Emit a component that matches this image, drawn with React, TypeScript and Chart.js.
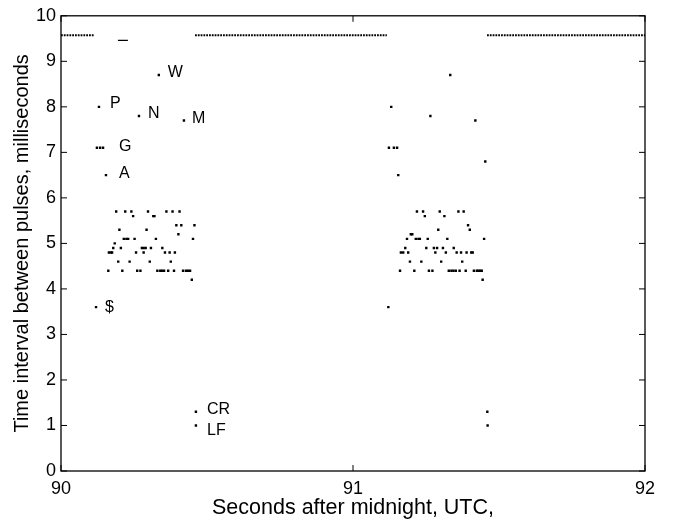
import { useEffect, useRef } from 'react';
import { Chart, registerables } from 'chart.js';

Chart.register(...registerables);

// Axis ticks
const xTickValues = [90, 91, 92];
const yTickValues = [0, 1, 2, 3, 4, 5, 6, 7, 8, 9, 10];

// First burst of pulses (seconds after midnight, interval in ms)
const burst1Times = [
  90.335, 90.130, 90.267, 90.421, 90.123, 90.134, 90.144, 90.154,
  90.189, 90.220, 90.241, 90.298, 90.361, 90.382, 90.406,
  90.247, 90.316, 90.320,
  90.395, 90.412, 90.457,
  90.200, 90.293,
  90.402,
  90.215, 90.224, 90.230, 90.252, 90.325, 90.452,
  90.184,
  90.179, 90.205, 90.277, 90.283, 90.290, 90.308, 90.347,
  90.164, 90.171, 90.175, 90.257, 90.283, 90.356, 90.372, 90.390,
  90.196, 90.235, 90.304, 90.376,
  90.162, 90.210, 90.261, 90.272, 90.330, 90.340, 90.346, 90.353, 90.367, 90.387, 90.418, 90.428, 90.435, 90.442,
  90.448, 90.120, 90.462, 90.462,
];
const burst1Intervals = [
  8.7, 8.0, 7.8, 7.7, 7.1, 7.1, 7.1, 6.5,
  5.7, 5.7, 5.7, 5.7, 5.7, 5.7, 5.7,
  5.6, 5.6, 5.6,
  5.4, 5.4, 5.4,
  5.3, 5.3,
  5.2,
  5.1, 5.1, 5.1, 5.1, 5.1, 5.1,
  5.0,
  4.9, 4.9, 4.9, 4.9, 4.9, 4.9, 4.9,
  4.8, 4.8, 4.8, 4.8, 4.8, 4.8, 4.8, 4.8,
  4.6, 4.6, 4.6, 4.6,
  4.4, 4.4, 4.4, 4.4, 4.4, 4.4, 4.4, 4.4, 4.4, 4.4, 4.4, 4.4, 4.4, 4.4,
  4.2, 3.6, 1.3, 1.0,
];

// Second burst of pulses
const burst2Times = [
  91.333, 91.131, 91.265, 91.419, 91.123, 91.140, 91.151, 91.453, 91.155,
  91.219, 91.240, 91.297, 91.361, 91.379,
  91.246, 91.313,
  91.394,
  91.292, 91.400,
  91.198, 91.203,
  91.185, 91.215, 91.224, 91.229, 91.256, 91.323, 91.449,
  91.179, 91.251, 91.277, 91.288, 91.308, 91.345,
  91.164, 91.172, 91.189, 91.282, 91.318, 91.355, 91.370, 91.389, 91.405, 91.410,
  91.195, 91.234, 91.302, 91.374,
  91.161, 91.210, 91.260, 91.272, 91.328, 91.337, 91.344, 91.352, 91.365, 91.386, 91.414, 91.424, 91.429, 91.435, 91.441,
  91.444, 91.121, 91.460, 91.461,
];
const burst2Intervals = [
  8.7, 8.0, 7.8, 7.7, 7.1, 7.1, 7.1, 6.8, 6.5,
  5.7, 5.7, 5.7, 5.7, 5.7,
  5.6, 5.6,
  5.4,
  5.3, 5.3,
  5.2, 5.2,
  5.1, 5.1, 5.1, 5.1, 5.1, 5.1, 5.1,
  4.9, 4.9, 4.9, 4.9, 4.9, 4.9,
  4.8, 4.8, 4.8, 4.8, 4.8, 4.8, 4.8, 4.8, 4.8, 4.8,
  4.6, 4.6, 4.6, 4.6,
  4.4, 4.4, 4.4, 4.4, 4.4, 4.4, 4.4, 4.4, 4.4, 4.4, 4.4, 4.4, 4.4, 4.4, 4.4,
  4.2, 3.6, 1.3, 1.0,
];

// Regular pulse train segments near the top
const trainStarts = [90.0, 90.459, 91.459];
const trainEnds = [90.113, 91.116, 92.0];
const trainLevel = 9.57;

// Short mark near the top
const markStart = 90.195;
const markEnd = 90.229;
const markLevel = 9.46;

// Text annotations
const labelTexts = ['W', 'P', 'N', 'M', 'G', 'A', '$', 'CR', 'LF'];
const labelTimes = [90.366, 90.168, 90.298, 90.449, 90.199, 90.199, 90.151, 90.5, 90.5];
const labelValues = [8.75, 8.07, 7.85, 7.74, 7.13, 6.54, 3.6, 1.34, 0.88];

const FONT = '"Liberation Sans", Arial, Helvetica, sans-serif';

const framePlugin = {
  id: 'frameAndLabels',
  afterDraw(chart: any) {
    const { ctx, chartArea } = chart;
    const xs = chart.scales.x;
    const ys = chart.scales.y;
    ctx.save();
    // labels
    ctx.fillStyle = '#000';
    ctx.font = `16px ${FONT}`;
    ctx.textAlign = 'left';
    ctx.textBaseline = 'middle';
    labelTexts.forEach((t, i) => {
      ctx.fillText(t, xs.getPixelForValue(labelTimes[i]), ys.getPixelForValue(labelValues[i]));
    });
    // frame
    ctx.strokeStyle = '#000';
    ctx.lineWidth = 1.3;
    ctx.strokeRect(chartArea.left, chartArea.top, chartArea.right - chartArea.left, chartArea.bottom - chartArea.top);
    const tl = 6;
    ctx.beginPath();
    yTickValues.forEach((v) => {
      const y = ys.getPixelForValue(v);
      ctx.moveTo(chartArea.left, y);
      ctx.lineTo(chartArea.left + tl, y);
      ctx.moveTo(chartArea.right, y);
      ctx.lineTo(chartArea.right - tl, y);
    });
    xTickValues.forEach((v) => {
      const x = xs.getPixelForValue(v);
      ctx.moveTo(x, chartArea.bottom);
      ctx.lineTo(x, chartArea.bottom - tl);
      ctx.moveTo(x, chartArea.top);
      ctx.lineTo(x, chartArea.top + tl);
    });
    ctx.lineWidth = 1;
    ctx.stroke();
    ctx.restore();
  },
};

export default function App() {
  const ref = useRef<HTMLCanvasElement | null>(null);
  useEffect(() => {
    if (!ref.current) return;
    const pointDs = (times: number[], vals: number[]) => ({
      type: 'scatter' as const,
      data: times.map((t, i) => ({ x: t, y: vals[i] })),
      pointStyle: 'rect',
      pointRadius: 1.7,
      pointBackgroundColor: '#000',
      pointBorderWidth: 0,
      showLine: false,
    });
    const trainDs = trainStarts.map((s, i) => ({
      type: 'line' as const,
      data: [{ x: s, y: trainLevel }, { x: trainEnds[i], y: trainLevel }],
      borderColor: '#000',
      borderWidth: 2,
      borderDash: [1.8, 1],
      pointRadius: 0,
      fill: false,
    }));
    const markDs = {
      type: 'line' as const,
      data: [{ x: markStart, y: markLevel }, { x: markEnd, y: markLevel }],
      borderColor: '#000',
      borderWidth: 1.2,
      pointRadius: 0,
      fill: false,
    };
    const chart = new Chart(ref.current, {
      type: 'scatter',
      data: {
        datasets: [
          pointDs(burst1Times, burst1Intervals),
          pointDs(burst2Times, burst2Intervals),
          ...trainDs,
          markDs,
        ] as any,
      },
      options: {
        animation: false,
        responsive: false,
        devicePixelRatio: 1,
        layout: { padding: { top: 15, right: 30, left: 0, bottom: 0 } },
        plugins: { legend: { display: false }, tooltip: { enabled: false } },
        scales: {
          x: {
            type: 'linear',
            min: 90,
            max: 92,
            afterBuildTicks: (s: any) => {
              s.ticks = xTickValues.map((v) => ({ value: v }));
            },
            afterFit: (s: any) => {
              s.height = 51;
            },
            ticks: { color: '#000', font: { family: FONT, size: 18 }, padding: 7, maxRotation: 0 },
            grid: { display: false, drawTicks: false },
            border: { display: false },
            title: {
              display: true,
              text: 'Seconds after midnight, UTC,',
              color: '#000',
              font: { family: FONT, size: 21.5 },
              padding: { top: 0, bottom: 1 },
            },
          },
          y: {
            type: 'linear',
            min: 0,
            max: 10,
            afterBuildTicks: (s: any) => {
              s.ticks = yTickValues.map((v) => ({ value: v }));
            },
            afterFit: (s: any) => {
              s.width = 61;
            },
            ticks: { color: '#000', font: { family: FONT, size: 18 }, padding: 5 },
            grid: { display: false, drawTicks: false },
            border: { display: false },
            title: {
              display: true,
              text: 'Time interval between pulses, milliseconds',
              color: '#000',
              font: { family: FONT, size: 20 },
              padding: { top: 10, bottom: 0 },
            },
          },
        },
      },
      plugins: [framePlugin],
    });
    return () => chart.destroy();
  }, []);
  return (
    <div style={{ position: 'fixed', left: 0, top: 0, width: 675, height: 522, background: '#fff' }}>
      <canvas ref={ref} width={675} height={522} style={{ width: 675, height: 522 }} />
    </div>
  );
}
